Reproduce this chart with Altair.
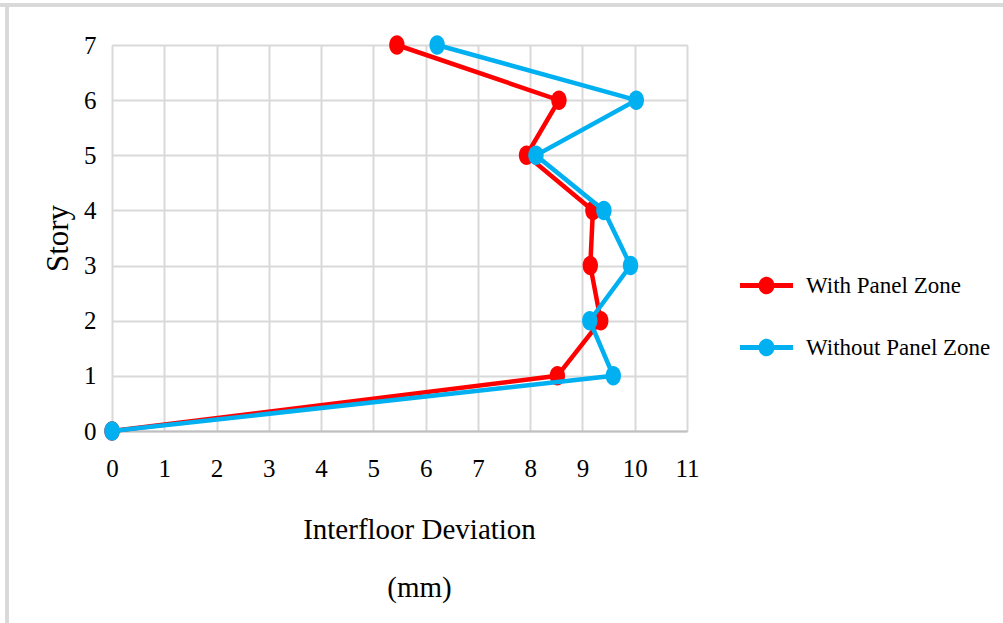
import altair as alt
import pandas as pd

stories = [0, 1, 2, 3, 4, 5, 6, 7]
with_pz = [0, 8.52, 9.35, 9.15, 9.2, 7.93, 8.55, 5.45]
without_pz = [0, 9.59, 9.14, 9.92, 9.41, 8.11, 10.03, 6.22]
series_names = ["With Panel Zone", "Without Panel Zone"]
series_colors = ["#ff0000", "#00b0f0"]

rows = []
for i, s in enumerate(stories):
    rows.append({"series": series_names[0], "story": s, "dev": with_pz[i]})
for i, s in enumerate(stories):
    rows.append({"series": series_names[1], "story": s, "dev": without_pz[i]})
df = pd.DataFrame(rows)

FONT = "Liberation Serif"
ellipse = "M-0.79,0A0.79,1 0 1,1 0.79,0A0.79,1 0 1,1 -0.79,0Z"
legend_sym = ("M-1,-0.095H1V0.095H-1Z "
              "M-0.3,0A0.3,0.33 0 1,1 0.3,0A0.3,0.33 0 1,1 -0.3,0Z")

x_enc = alt.X("dev:Q", scale=alt.Scale(domain=[0, 11], nice=False, zero=False),
              axis=alt.Axis(values=list(range(12)), title=["Interfloor Deviation", "(mm)"],
                            grid=True, gridColor="#d9d9d9", gridWidth=2,
                            domain=True, domainColor="#bfbfbf", domainWidth=2,
                            ticks=False, labelPadding=25, labelFontSize=25, labelFlush=False,
                            labelFont=FONT, labelColor="#000",
                            titleFont=FONT, titleFontSize=29, titleFontWeight="normal",
                            titleColor="#000", titlePadding=34, titleLineHeight=58,
                            titleX=307, titleAlign="center"))
y_enc = alt.Y("story:Q", scale=alt.Scale(domain=[0, 7], nice=False),
              axis=alt.Axis(values=stories, title="Story",
                            grid=True, gridColor="#d9d9d9", gridWidth=2,
                            domain=False, ticks=False, labelPadding=16,
                            labelFontSize=25, labelFont=FONT, labelColor="#000",
                            titleFont=FONT, titleFontSize=31, titleFontWeight="normal",
                            titleColor="#000", titlePadding=9))
color_scale = alt.Scale(domain=series_names, range=series_colors)
legend = alt.Legend(title=None, orient="none", legendX=628, legendY=214,
                    symbolType=legend_sym, symbolSize=2809, symbolStrokeWidth=0,
                    labelFont=FONT, labelFontSize=23, labelLimit=400,
                    labelColor="#000", labelOffset=13, rowPadding=23, padding=0)
color_enc = alt.Color("series:N", scale=color_scale, legend=legend)

layers = []
for k, name in enumerate(series_names):
    sub = alt.Chart(df).transform_filter(alt.datum.series == name)
    line = sub.mark_line(strokeWidth=4.5).encode(
        x=x_enc, y=y_enc, order="story:Q", color=color_enc)
    pts = sub.mark_point(shape=ellipse, filled=True, opacity=1, size=380).encode(
        x=x_enc, y=y_enc, color=color_enc)
    layers += [line, pts]

frame_top = alt.Chart(df).mark_rule(color="#d9d9d9", strokeWidth=3).encode(
    x=alt.value(-112), x2=alt.value(891), y=alt.value(-40))
frame_left = alt.Chart(df).mark_rule(color="#d9d9d9", strokeWidth=3).encode(
    x=alt.value(-105), y=alt.value(-41), y2=alt.value(578))

chart = alt.layer(frame_top, frame_left, *layers).properties(
    width=575, height=386,
    autosize=alt.AutoSizeParams(type="none"),
    padding={"left": 112, "top": 45, "right": 316, "bottom": 192},
).configure_view(stroke=None).configure(background="white")

chart.save("out.html", embed_options={"renderer": "svg", "actions": False})
